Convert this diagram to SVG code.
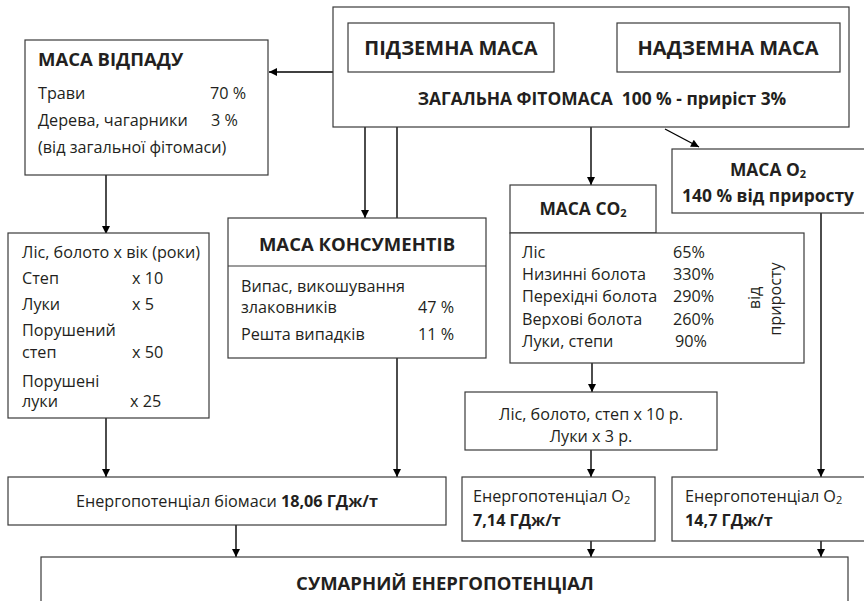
<svg xmlns="http://www.w3.org/2000/svg" width="864" height="601" viewBox="0 0 864 601">
<defs>
<marker id="ah" viewBox="0 0 10 10" refX="10" refY="5" markerWidth="9" markerHeight="8" markerUnits="userSpaceOnUse" orient="auto">
<path d="M0,0 L10,5 L0,10 z" fill="#000"/>
</marker>
<style>
.box{fill:#fff;stroke:#3a3a3a;stroke-width:1.2}
.ln{fill:none;stroke:#000;stroke-width:1.4}
.ar{fill:none;stroke:#000;stroke-width:1.4;marker-end:url(#ah)}
text{font-family:"Open Sans","Noto Sans","Liberation Sans",sans-serif;fill:#231f20}
.t{font-size:16.2px}
.b{font-size:18.5px;font-weight:bold}
.bb{font-size:20px;font-weight:bold}
.bs{font-size:17.4px;font-weight:bold}
.m{text-anchor:middle}
.sub{font-size:11px}
</style>
</defs>
<rect width="864" height="601" fill="#fff"/>

<g id="connectors">
<line class="ar" x1="609" y1="47" x2="555" y2="47"/>
<line class="ar" x1="333" y1="72" x2="269" y2="72"/>
<line class="ar" x1="106" y1="175" x2="106" y2="234"/>
<line class="ar" x1="365" y1="127" x2="365" y2="218"/>
<line class="ln" x1="397" y1="127" x2="397" y2="218"/>
<line class="ar" x1="591" y1="127" x2="591" y2="185"/>
<line class="ar" x1="665" y1="129" x2="699" y2="147"/>
<line class="ar" x1="821" y1="213" x2="821" y2="477"/>
<line class="ar" x1="592" y1="363" x2="592" y2="392"/>
<line class="ar" x1="106" y1="418" x2="106" y2="477"/>
<line class="ar" x1="397" y1="358" x2="397" y2="477"/>
<line class="ar" x1="591" y1="450" x2="591" y2="477"/>
<line class="ar" x1="236" y1="525" x2="236" y2="557"/>
<line class="ar" x1="591" y1="541" x2="591" y2="557"/>
<line class="ar" x1="821" y1="541" x2="821" y2="557"/>
</g>

<g id="zahalna">
<rect class="box" x="333" y="7" width="516" height="120"/>
<text class="bs m" x="602" y="105">ЗАГАЛЬНА ФІТОМАСА&#160; 100 % - приріст 3%</text>
</g>
<g id="pidzemna">
<rect class="box" x="348" y="23" width="206" height="49"/>
<text class="bb m" x="451" y="55">ПІДЗЕМНА МАСА</text>
</g>
<g id="nadzemna">
<rect class="box" x="617" y="23" width="223" height="49"/>
<text class="bb m" x="728" y="55">НАДЗЕМНА МАСА</text>
</g>

<g id="vidpad">
<rect class="box" x="25" y="40" width="243" height="135"/>
<text class="b" x="38" y="66">МАСА ВІДПАДУ</text>
<text class="t" x="38" y="99">Трави</text>
<text class="t" x="210" y="99">70 %</text>
<text class="t" x="38" y="126">Дерева, чагарники</text>
<text class="t" x="211" y="126">3 %</text>
<text class="t" x="38" y="153">(від загальної фітомаси)</text>
</g>

<g id="vik">
<rect class="box" x="8" y="233" width="201" height="185"/>
<text class="t" x="22" y="258">Ліс, болото х вік (роки)</text>
<text class="t" x="22" y="284">Степ</text>
<text class="t" x="132" y="284">х 10</text>
<text class="t" x="22" y="310">Луки</text>
<text class="t" x="132" y="310">х 5</text>
<text class="t" x="22" y="336">Порушений</text>
<text class="t" x="22" y="358">степ</text>
<text class="t" x="132" y="358">х 50</text>
<text class="t" x="22" y="387">Порушені</text>
<text class="t" x="22" y="407">луки</text>
<text class="t" x="130" y="407">х 25</text>
</g>

<g id="konsumenty">
<rect class="box" x="228" y="218" width="258" height="140"/>
<line class="box" x1="228" y1="266" x2="486" y2="266"/>
<text class="b m" x="357" y="251">МАСА КОНСУМЕНТІВ</text>
<text class="t" x="241" y="292">Випас, викошування</text>
<text class="t" x="241" y="313">злаковників</text>
<text class="t" x="418" y="313">47 %</text>
<text class="t" x="241" y="340">Решта випадків</text>
<text class="t" x="418" y="340">11 %</text>
</g>

<g id="co2">
<rect class="box" x="510" y="185" width="146" height="48"/>
<text class="bs m" x="583" y="215">МАСА CO<tspan class="sub" dy="2">2</tspan></text>
<rect class="box" x="510" y="233" width="294" height="130"/>
<text class="t" x="522" y="258">Ліс</text>
<text class="t" x="673" y="258">65%</text>
<text class="t" x="522" y="280">Низинні болота</text>
<text class="t" x="673" y="280">330%</text>
<text class="t" x="522" y="302">Перехідні болота</text>
<text class="t" x="673" y="302">290%</text>
<text class="t" x="522" y="325">Верхові болота</text>
<text class="t" x="673" y="325">260%</text>
<text class="t" x="522" y="347">Луки, степи</text>
<text class="t" x="675" y="347">90%</text>
<text class="t m" transform="translate(760,298) rotate(-90)">від</text>
<text class="t m" transform="translate(781,299) rotate(-90)">приросту</text>
</g>

<g id="o2">
<rect class="box" x="672" y="149" width="193" height="64"/>
<text class="bs m" x="768" y="176">МАСА O<tspan class="sub" dy="2">2</tspan></text>
<text class="bs m" x="768" y="202">140 % від приросту</text>
</g>

<g id="mnozhnyk">
<rect class="box" x="465" y="392" width="252" height="58"/>
<text class="t m" x="591" y="420">Ліс, болото, степ х 10 р.</text>
<text class="t m" x="591" y="442">Луки х 3 р.</text>
</g>

<g id="energ-biomasa">
<rect class="box" x="8" y="477" width="438" height="48"/>
<text class="t m" x="227" y="507">Енергопотенціал біомаси <tspan font-weight="bold">18,06 ГДж/т</tspan></text>
</g>

<g id="energ-o2-1">
<rect class="box" x="462" y="477" width="193" height="64"/>
<text class="t" x="473" y="502">Енергопотенціал O<tspan class="sub" dy="2">2</tspan></text>
<text class="t" x="473" y="526" font-weight="bold">7,14 ГДж/т</text>
</g>

<g id="energ-o2-2">
<rect class="box" x="672" y="477" width="193" height="64"/>
<text class="t" x="685" y="502">Енергопотенціал O<tspan class="sub" dy="2">2</tspan></text>
<text class="t" x="685" y="526" font-weight="bold">14,7 ГДж/т</text>
</g>

<g id="sumarnyi">
<rect class="box" x="41" y="557" width="807" height="60"/>
<text class="b m" x="445" y="590">СУМАРНИЙ ЕНЕРГОПОТЕНЦІАЛ</text>
</g>
</svg>
